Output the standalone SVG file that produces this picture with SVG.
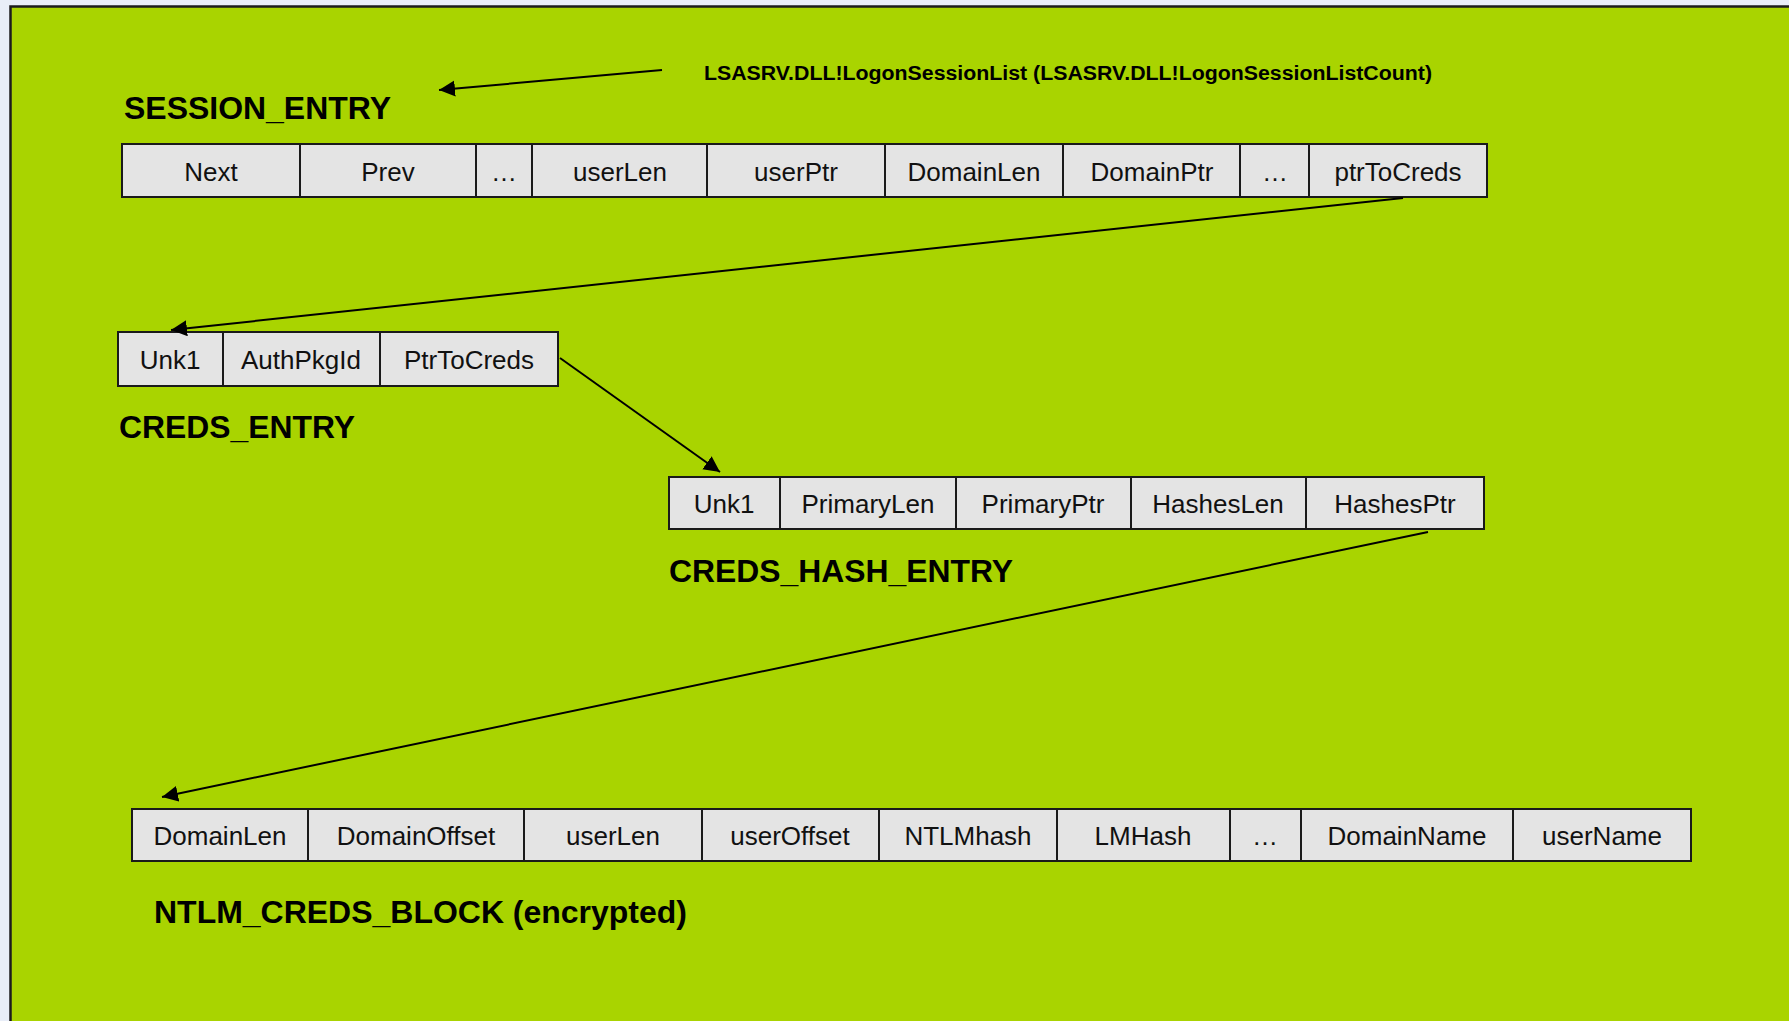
<svg xmlns="http://www.w3.org/2000/svg" width="1789" height="1021" viewBox="0 0 1789 1021">
  <style>
    .cell { fill: #e4e4e4; stroke: #1a1a1a; stroke-width: 2; }
    .ct { font-family: "Liberation Sans", Arial, sans-serif; font-size: 26px; fill: #111; text-anchor: middle; }
    .title { font-family: "Liberation Sans", Arial, sans-serif; font-weight: bold; font-size: 31px; fill: #000; }
    .note { font-family: "Liberation Sans", Arial, sans-serif; font-weight: bold; font-size: 20px; fill: #000; }
    .link { stroke: #000; stroke-width: 2; fill: none; marker-end: url(#head); }
  </style>
  <defs>
    <marker id="head" markerUnits="userSpaceOnUse" markerWidth="18" markerHeight="18" refX="16" refY="8" orient="auto">
      <path d="M0,0 L16,8 L0,16 Z" fill="#000"/>
    </marker>
  </defs>

  <!-- page and panel -->
  <rect x="0" y="0" width="1789" height="1021" fill="#e9eef8"/>
  <rect x="10.5" y="6.5" width="1800" height="1030" fill="#a9d400" stroke="#1c1c1c" stroke-width="2.5"/>

  <text class="note" x="704" y="80" textLength="728" lengthAdjust="spacingAndGlyphs">LSASRV.DLL!LogonSessionList (LSASRV.DLL!LogonSessionListCount)</text>

  <!-- SESSION_ENTRY -->
  <g id="session_entry">
    <text class="title" x="124" y="119" textLength="267" lengthAdjust="spacingAndGlyphs">SESSION_ENTRY</text>
    <rect class="cell" x="122" y="144" width="178" height="53"/>
    <rect class="cell" x="300" y="144" width="176" height="53"/>
    <rect class="cell" x="476" y="144" width="56" height="53"/>
    <rect class="cell" x="532" y="144" width="175" height="53"/>
    <rect class="cell" x="707" y="144" width="178" height="53"/>
    <rect class="cell" x="885" y="144" width="178" height="53"/>
    <rect class="cell" x="1063" y="144" width="177" height="53"/>
    <rect class="cell" x="1240" y="144" width="69" height="53"/>
    <rect class="cell" x="1309" y="144" width="178" height="53"/>
    <text class="ct" x="211" y="181">Next</text>
    <text class="ct" x="388" y="181">Prev</text>
    <text class="ct" x="504" y="181">…</text>
    <text class="ct" x="620" y="181">userLen</text>
    <text class="ct" x="796" y="181">userPtr</text>
    <text class="ct" x="974" y="181">DomainLen</text>
    <text class="ct" x="1152" y="181">DomainPtr</text>
    <text class="ct" x="1275" y="181">…</text>
    <text class="ct" x="1398" y="181">ptrToCreds</text>
  </g>

  <!-- CREDS_ENTRY -->
  <g id="creds_entry">
    <rect class="cell" x="118" y="332" width="105" height="54"/>
    <rect class="cell" x="223" y="332" width="157" height="54"/>
    <rect class="cell" x="380" y="332" width="178" height="54"/>
    <text class="ct" x="170" y="369">Unk1</text>
    <text class="ct" x="301" y="369">AuthPkgId</text>
    <text class="ct" x="469" y="369">PtrToCreds</text>
    <text class="title" x="119" y="438" textLength="236" lengthAdjust="spacingAndGlyphs">CREDS_ENTRY</text>
  </g>

  <!-- CREDS_HASH_ENTRY -->
  <g id="creds_hash_entry">
    <rect class="cell" x="669" y="477" width="111" height="52"/>
    <rect class="cell" x="780" y="477" width="176" height="52"/>
    <rect class="cell" x="956" y="477" width="175" height="52"/>
    <rect class="cell" x="1131" y="477" width="175" height="52"/>
    <rect class="cell" x="1306" y="477" width="178" height="52"/>
    <text class="ct" x="724" y="513">Unk1</text>
    <text class="ct" x="868" y="513">PrimaryLen</text>
    <text class="ct" x="1043" y="513">PrimaryPtr</text>
    <text class="ct" x="1218" y="513">HashesLen</text>
    <text class="ct" x="1395" y="513">HashesPtr</text>
    <text class="title" x="669" y="582" textLength="344" lengthAdjust="spacingAndGlyphs">CREDS_HASH_ENTRY</text>
  </g>

  <!-- NTLM_CREDS_BLOCK -->
  <g id="ntlm_creds_block">
    <rect class="cell" x="132" y="809" width="176" height="52"/>
    <rect class="cell" x="308" y="809" width="216" height="52"/>
    <rect class="cell" x="524" y="809" width="178" height="52"/>
    <rect class="cell" x="702" y="809" width="177" height="52"/>
    <rect class="cell" x="879" y="809" width="178" height="52"/>
    <rect class="cell" x="1057" y="809" width="173" height="52"/>
    <rect class="cell" x="1230" y="809" width="71" height="52"/>
    <rect class="cell" x="1301" y="809" width="212" height="52"/>
    <rect class="cell" x="1513" y="809" width="178" height="52"/>
    <text class="ct" x="220" y="845">DomainLen</text>
    <text class="ct" x="416" y="845">DomainOffset</text>
    <text class="ct" x="613" y="845">userLen</text>
    <text class="ct" x="790" y="845">userOffset</text>
    <text class="ct" x="968" y="845">NTLMhash</text>
    <text class="ct" x="1143" y="845">LMHash</text>
    <text class="ct" x="1265" y="845">…</text>
    <text class="ct" x="1407" y="845">DomainName</text>
    <text class="ct" x="1602" y="845">userName</text>
    <text class="title" x="154" y="923" textLength="533" lengthAdjust="spacingAndGlyphs">NTLM_CREDS_BLOCK (encrypted)</text>
  </g>

  <!-- pointer connectors -->
  <g id="connectors">
    <line class="link" x1="662" y1="70" x2="439" y2="90"/>
    <line class="link" x1="1403" y1="198" x2="171" y2="330"/>
    <line class="link" x1="560" y1="358" x2="720" y2="472"/>
    <line class="link" x1="1428" y1="532" x2="162" y2="797"/>
  </g>
</svg>
